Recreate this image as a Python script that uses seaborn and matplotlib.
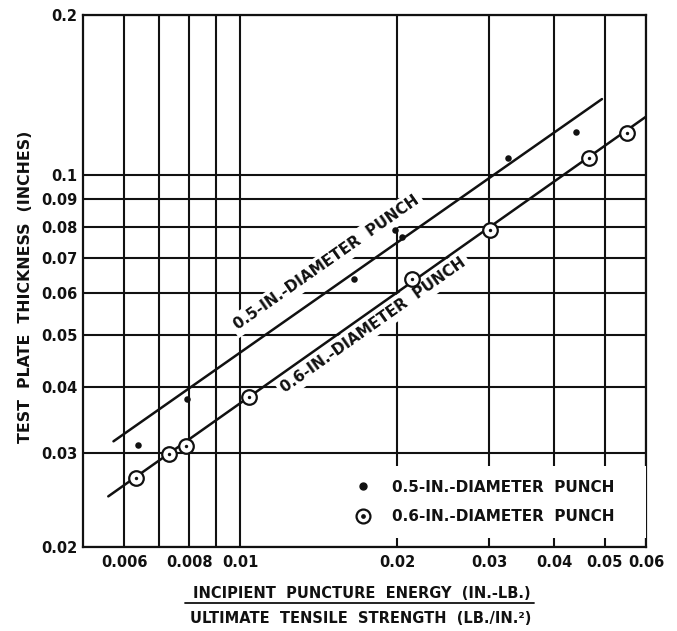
import numpy as np
import pandas as pd
import matplotlib
matplotlib.use("Agg")
import matplotlib.pyplot as plt
import seaborn as sns
from matplotlib.lines import Line2D
from matplotlib.legend_handler import HandlerTuple

# ---- data ----
x_05 = [0.00637, 0.0079, 0.0165, 0.0198, 0.0204, 0.0327, 0.0441]
y_05 = [0.0311, 0.0379, 0.0638, 0.0789, 0.0766, 0.1076, 0.1207]

x_06 = [0.00632, 0.00732, 0.00788, 0.01042, 0.02134, 0.0301, 0.0467, 0.0551]
y_06 = [0.0270, 0.0299, 0.0310, 0.0382, 0.0638, 0.0789, 0.1079, 0.1199]

fit05_x = [0.00572, 0.0494]
fit05_y = [0.0316, 0.139]
fit06_x = [0.00559, 0.0600]
fit06_y = [0.0249, 0.1288]

x_ticks = [0.006, 0.008, 0.01, 0.02, 0.03, 0.04, 0.05, 0.06]
x_ticklabels = ["0.006", "0.008", "0.01", "0.02", "0.03", "0.04", "0.05", "0.06"]
x_minor = [0.007, 0.009]
y_ticks = [0.02, 0.03, 0.04, 0.05, 0.06, 0.07, 0.08, 0.09, 0.1, 0.2]
y_ticklabels = ["0.02", "0.03", "0.04", "0.05", "0.06", "0.07", "0.08", "0.09", "0.1", "0.2"]

label_05 = "0.5-IN.-DIAMETER  PUNCH"
label_06 = "0.6-IN.-DIAMETER  PUNCH"
xlabel_top = "INCIPIENT  PUNCTURE  ENERGY  (IN.-LB.)"
xlabel_bottom = "ULTIMATE  TENSILE  STRENGTH  (LB./IN.²)"
ylabel = "TEST  PLATE  THICKNESS  (INCHES)"

df05 = pd.DataFrame({"x": x_05, "y": y_05})
df06 = pd.DataFrame({"x": x_06, "y": y_06})
dfit05 = pd.DataFrame({"x": fit05_x, "y": fit05_y})
dfit06 = pd.DataFrame({"x": fit06_x, "y": fit06_y})

sns.set_theme(style="white")
plt.rcParams["font.family"] = ["DejaVu Sans"]
plt.rcParams["font.weight"] = "bold"

INK = "#111111"

fig = plt.figure(figsize=(6.77, 6.31), dpi=100)
ax = fig.add_axes([83 / 677, 1 - 547 / 631, (646 - 83) / 677, (547 - 15) / 631])
ax.set_xscale("log")
ax.set_yscale("log")
ax.set_xlim(0.005, 0.06)
ax.set_ylim(0.02, 0.2)

# fit lines
sns.lineplot(data=dfit05, x="x", y="y", ax=ax, color=INK, lw=1.8, zorder=3)
sns.lineplot(data=dfit06, x="x", y="y", ax=ax, color=INK, lw=1.8, zorder=3)

# points
sns.scatterplot(data=df05, x="x", y="y", ax=ax, color=INK, s=22, marker="o",
                edgecolor=INK, linewidth=0, zorder=5)
sns.scatterplot(data=df06, x="x", y="y", ax=ax, facecolor="white", s=110, marker="o",
                edgecolor=INK, linewidth=1.6, zorder=5)
sns.scatterplot(data=df06, x="x", y="y", ax=ax, color=INK, s=6, marker="o",
                edgecolor=INK, linewidth=0, zorder=6)

# ticks and grid
ax.set_xticks(x_ticks)
ax.set_xticklabels(x_ticklabels)
ax.set_xticks(x_minor, minor=True)
ax.set_xticklabels([], minor=True)
ax.set_yticks(y_ticks)
ax.set_yticklabels(y_ticklabels)
ax.yaxis.set_minor_locator(matplotlib.ticker.NullLocator())
ax.tick_params(axis="both", which="both", length=0, colors=INK, labelsize=10.5)
ax.tick_params(axis="x", pad=6)
ax.tick_params(axis="y", pad=4)
for lab in ax.get_xticklabels() + ax.get_yticklabels():
    lab.set_fontweight("bold")
ax.set_axisbelow(True)
ax.grid(True, which="both", axis="x", color=INK, lw=1.5)
ax.grid(True, which="major", axis="y", color=INK, lw=1.5)
for sp in ax.spines.values():
    sp.set_visible(True)
    sp.set_color(INK)
    sp.set_linewidth(1.6)

# labels on fit lines
fig.canvas.draw()
def line_angle(xs, ys):
    p = ax.transData.transform(np.column_stack([xs, ys]))
    return np.degrees(np.arctan2(p[1, 1] - p[0, 1], p[1, 0] - p[0, 0]))

ang05 = line_angle(fit05_x, fit05_y)
ang06 = line_angle(fit06_x, fit06_y)
bbox_kw = dict(boxstyle="square,pad=0.25", fc="white", ec="none")
ax.text(0.01466, 0.0684, label_05, rotation=ang05, rotation_mode="anchor",
        ha="center", va="center", fontsize=11, fontweight="bold", color=INK,
        bbox=bbox_kw, zorder=2.5)
ax.text(0.01801, 0.0523, label_06, rotation=ang06, rotation_mode="anchor",
        ha="center", va="center", fontsize=11, fontweight="bold", color=INK,
        bbox=bbox_kw, zorder=2.5)

# legend
h05 = Line2D([], [], ls="none", marker="o", ms=5, color=INK, mec=INK)
h06a = Line2D([], [], ls="none", marker="o", ms=10, mfc="white", mec=INK, mew=1.6)
h06b = Line2D([], [], ls="none", marker="o", ms=2.4, color=INK, mec=INK)
leg = ax.legend([h05, (h06a, h06b)], [label_05, label_06],
                handler_map={tuple: HandlerTuple(ndivide=1)},
                loc="lower left", bbox_to_anchor=(0.46, 0.017, 0.54, 0.14),
                mode="expand", frameon=True, facecolor="white", edgecolor="none",
                framealpha=1, fancybox=False, borderpad=0.9, labelspacing=0.95,
                handlelength=1.0, handletextpad=1.4, borderaxespad=0,
                prop={"weight": "bold", "size": 11})
for t in leg.get_texts():
    t.set_color(INK)

# axis labels
ax.set_ylabel(ylabel, fontsize=11.3, fontweight="bold", color=INK)
ax.yaxis.set_label_coords((33 - 83) / 563, (547 - 287) / 532)
ax.set_xlabel(xlabel_bottom, fontsize=10.5, fontweight="bold", color=INK)
ax.xaxis.set_label_coords((361 - 83) / 563, (547 - 611) / 532)
t_top = ax.text((362 - 83) / 563, (547 - 593) / 532, xlabel_top, transform=ax.transAxes,
                ha="center", va="center", fontsize=10.5, fontweight="bold", color=INK,
                clip_on=False)

fig.canvas.draw()
r = fig.canvas.get_renderer()
bb = t_top.get_window_extent(r)
inv = fig.transFigure.inverted()
(x0, y0), (x1, _) = inv.transform([[bb.x0 - 8, bb.y0 - 2], [bb.x1 + 3, bb.y0 - 2]])
fig.add_artist(Line2D([x0, x1], [y0, y0], transform=fig.transFigure, color=INK, lw=1.3))

fig.savefig("out.png", dpi=100, facecolor="white")
